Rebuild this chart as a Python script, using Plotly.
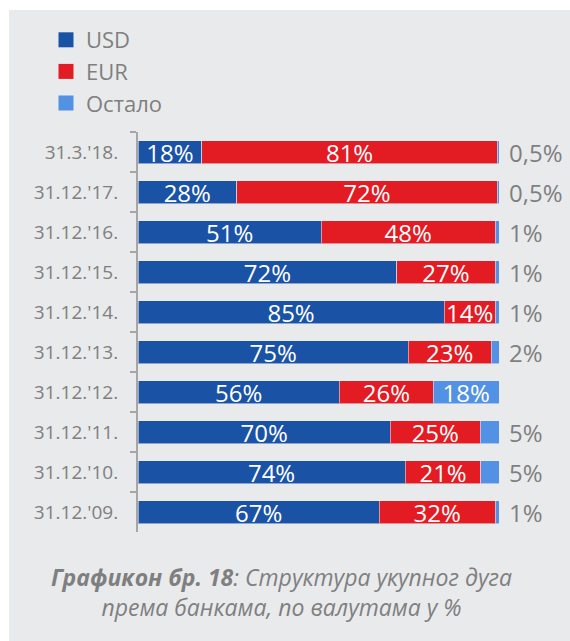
import plotly.graph_objects as go

# Data (top to bottom)
categories = ["31.3.'18.", "31.12.'17.", "31.12.'16.", "31.12.'15.", "31.12.'14.",
              "31.12.'13.", "31.12.'12.", "31.12.'11.", "31.12.'10.", "31.12.'09."]
usd = [17.7, 27.3, 50.8, 71.7, 84.8, 74.9, 55.8, 69.9, 74.0, 66.8]
eur = [81.8, 72.2, 48.1, 27.2, 14.1, 22.9, 26.0, 24.9, 21.0, 32.1]
other = [0.5, 0.5, 1.1, 1.1, 1.1, 2.2, 18.2, 5.2, 5.0, 1.1]
usd_labels = ["18%", "28%", "51%", "72%", "85%", "75%", "56%", "70%", "74%", "67%"]
eur_labels = ["81%", "72%", "48%", "27%", "14%", "23%", "26%", "25%", "21%", "32%"]
other_labels = ["0,5%", "0,5%", "1%", "1%", "1%", "2%", "18%", "5%", "5%", "1%"]
series_names = ["USD", "EUR", "Остало"]

C_USD = "#1A53A6"
C_EUR = "#E31B23"
C_OTH = "#5291E3"
GRAY = "#7F7F7F"
BG = "#E9EAEC"
FONT = "Open Sans"

W, H = 570, 641
ML, MR, MT, MB = 138, 71, 132, 109
PW = W - ML - MR
PH = H - MT - MB

def px_x(px):
    return (px - ML) / PW

def px_y(py):
    return (H - MB - py) / PH

edge = dict(color="rgba(235,238,245,0.55)", width=1)
LBL = 24

fig = go.Figure()
inside_other = [lab if v > 10 else "" for lab, v in zip(other_labels, other)]
for name, vals, labs, col in zip(series_names, [usd, eur, other],
                                 [usd_labels, eur_labels, inside_other],
                                 [C_USD, C_EUR, C_OTH]):
    fig.add_trace(go.Bar(y=categories, x=vals, name=name, orientation="h",
                         marker=dict(color=col, line=edge), showlegend=False,
                         text=labs, textposition="inside", insidetextanchor="middle",
                         textfont=dict(color="white", size=LBL, family=FONT)))

# legend entries with larger square swatches
for name, col in zip(series_names, [C_USD, C_EUR, C_OTH]):
    fig.add_trace(go.Scatter(x=[None], y=[None], mode="markers", name=name,
                             marker=dict(symbol="square", size=15, color=col),
                             showlegend=True, hoverinfo="skip"))

# outside labels for small "other" shares
for cat, u, e, o, lab in zip(categories, usd, eur, other, other_labels):
    if o <= 10:
        fig.add_annotation(x=min(u + e + o, 100), y=cat, text=lab, showarrow=False,
                           xanchor="left", xshift=8,
                           font=dict(size=LBL, color=GRAY, family=FONT))

# background panel
fig.add_shape(type="rect", xref="paper", yref="paper", layer="below",
              x0=px_x(9), x1=px_x(W + 2), y0=px_y(H + 2), y1=px_y(10),
              fillcolor=BG, line=dict(width=0))

# caption
fig.add_annotation(xref="paper", yref="paper", x=px_x(281), y=px_y(592),
                   xanchor="center", yanchor="middle", showarrow=False,
                   text="<b><i>Графикон бр. 18</i></b><i>: Структура укупног дуга<br>према банкама, по валутама у %</i>",
                   font=dict(size=23, color=GRAY, family=FONT), align="center")

fig.update_layout(
    width=W, height=H,
    margin=dict(l=ML, r=MR, t=MT, b=MB, pad=0),
    paper_bgcolor="white", plot_bgcolor="rgba(0,0,0,0)",
    barmode="stack", bargap=0.425,
    uniformtext=dict(minsize=LBL, mode="show"),
    font=dict(family=FONT, color=GRAY),
    showlegend=True,
    legend=dict(x=px_x(46), y=px_y(19), xanchor="left", yanchor="top",
                bgcolor="rgba(0,0,0,0)", font=dict(size=22, color=GRAY, family=FONT),
                traceorder="normal", tracegroupgap=0, itemwidth=30),
    xaxis=dict(visible=False, range=[0, 100], fixedrange=True),
    yaxis=dict(autorange="reversed", showline=True, linecolor="#A6A6A6", linewidth=2,
               ticks="outside", tickson="boundaries", ticklen=6, tickwidth=2,
               tickcolor="#A6A6A6", ticklabelstandoff=14, showgrid=False,
               tickfont=dict(size=19, color=GRAY, family=FONT)),
)

fig.write_html("out.html")
